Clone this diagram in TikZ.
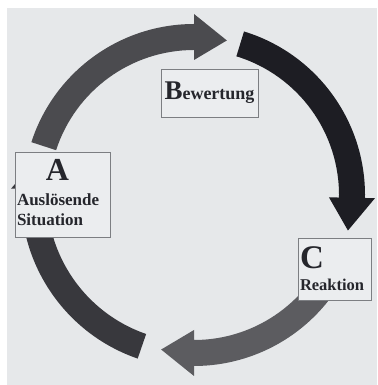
\documentclass[tikz,border=0pt]{standalone}
\usepackage{fontspec}
\setmainfont{Liberation Serif}
\usepackage{xcolor}
\usepackage{tikz}

\definecolor{paper}{HTML}{E6E8EA}
\definecolor{boxfill}{HTML}{EBEDEF}
\definecolor{boxline}{HTML}{7C7E82}
\definecolor{ink}{HTML}{25262C}
\definecolor{arcAB}{HTML}{4B4B4F}
\definecolor{arcBC}{HTML}{1D1D23}
\definecolor{arcCA}{HTML}{5C5C60}
\definecolor{arcback}{HTML}{38383D}

\tikzset{
	stage/.style={draw=boxline, line width=0.9pt, fill=boxfill, text=ink, inner sep=0pt},
}

\begin{document}
\begin{tikzpicture}[x=1pt,y=1pt]

\useasboundingbox (0,0) rectangle (377,385);
\fill[paper] (7,0) rectangle (377,377);

\begin{scope}[shift={(194,190)}]
\foreach \s/\e/\rad/\col in {162/90/158/arcAB, 73/-1/158/arcBC, -30/-90/158/arcCA, 251/178/160/arcback}{

	\pgfmathsetmacro\ro{\rad+13}
	\pgfmathsetmacro\ri{\rad-13}
	\pgfmathsetmacro\wo{\rad+23}
	\pgfmathsetmacro\wi{\rad-23}
	\pgfmathsetmacro\tip{\e-12}

	\fill[\col] (\s:\ro) arc[start angle=\s, end angle=\e, radius=\ro]
		-- (\e:\wo) -- (\tip:\rad) -- (\e:\wi) -- (\e:\ri)
		arc[start angle=\e, end angle=\s, radius=\ri] -- cycle;

}
\end{scope}

\node[stage, text width=91pt, align=left, inner xsep=2pt, inner ysep=6pt,
	font=\bfseries\fontsize{17}{20}\selectfont] (situation) at (62.5,190)
	{\makebox[81pt]{\fontsize{32}{32}\selectfont A}\\[5pt]Auslösende\\Situation\rule[-6pt]{0pt}{6pt}};

\node[stage, minimum width=97pt, minimum height=48pt,
	font=\bfseries\fontsize{18}{20}\selectfont] (appraisal) at (209.5,292)
	{{\fontsize{27}{27}\selectfont B}ewertung};

\node[stage, text width=69pt, align=left, inner xsep=2pt, inner ysep=9pt,
	font=\bfseries\fontsize{16.5}{20}\selectfont] (reaction) at (334.5,116)
	{{\fontsize{33}{33}\selectfont C}\\[2pt]Reaktion};

\end{tikzpicture}
\end{document}
